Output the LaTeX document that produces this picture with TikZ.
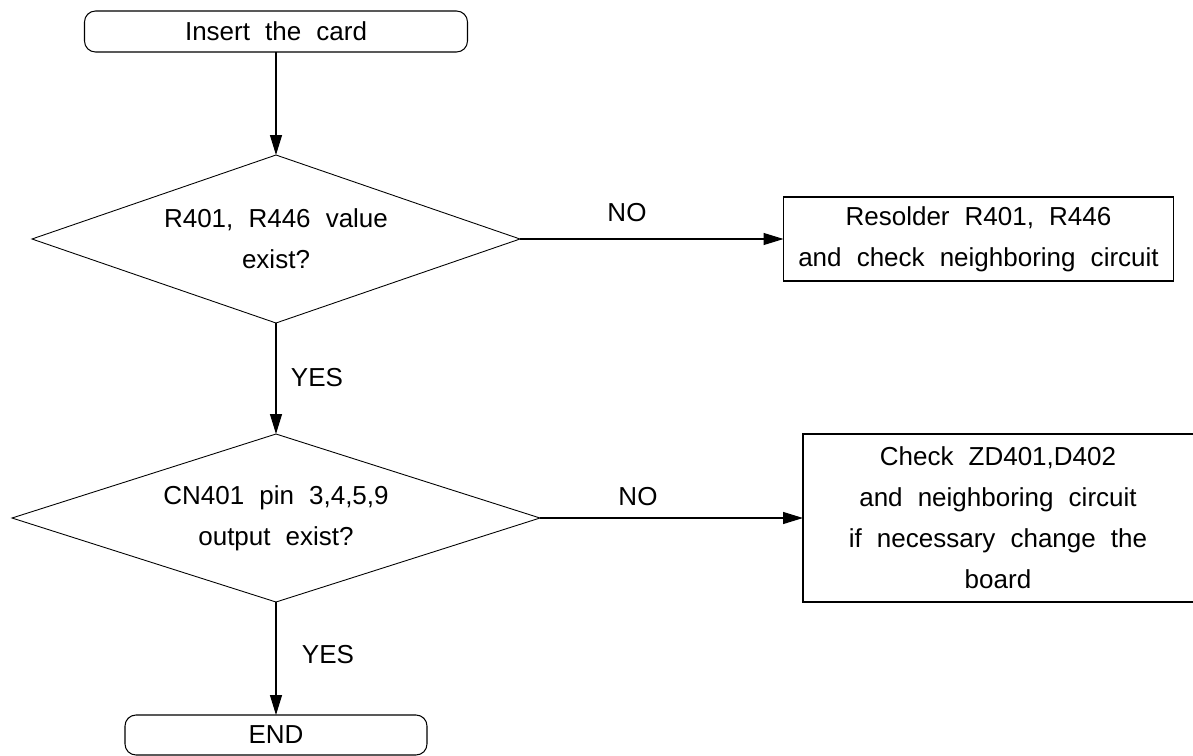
\documentclass[tikz,border=0pt]{standalone}
\usepackage{fontspec}
\setmainfont{Liberation Sans}
\usetikzlibrary{shapes.geometric,arrows.meta}
\newcommand{\chartfont}{\fontsize{14.8}{23.3}\selectfont\spaceskip=0.58em\relax}
\begin{document}
\begin{tikzpicture}[
  font=\chartfont,
  term/.style={draw,line width=.6pt,rounded corners=.22cm,minimum height=.82cm,inner sep=0,outer sep=0},
  decide/.style={draw,diamond,aspect=2.9,line width=.5pt,minimum height=3.36cm,inner sep=0,outer sep=0,align=center},
  act/.style={draw,line width=.7pt,inner sep=0,outer sep=0,align=center},
  flow/.style={line width=.7pt,-{Triangle[length=.4cm,width=.24cm]}}]
\useasboundingbox (0,0) rectangle (23.86,-15.12);

\node [term,minimum width=7.66cm] (insert) at (5.52,-.63) {Insert the card};

\node [decide,minimum width=9.76cm] (val) at (5.52,-4.78) {R401, R446 value\\exist?};
\node [act,minimum width=7.8cm,minimum height=1.68cm] (resolder) at (19.57,-4.78) {Resolder R401, R446\\and check neighboring circuit};

\node [decide,minimum width=10.56cm] (pins) at (5.52,-10.36) {CN401 pin 3,4,5,9\\output exist?};
% right edge of this box falls just past the page
\node [act,minimum width=7.9cm,minimum height=3.36cm] (board) at (20.01,-10.36) {\hspace*{-.1cm}Check ZD401,D402\\\hspace*{-.1cm}and neighboring circuit\\\hspace*{-.1cm}if necessary change the\\\hspace*{-.1cm}board};

\node [term,minimum width=6.04cm,minimum height=.8cm] (finish) at (5.52,-14.7) {END};

\draw [flow] (insert) -- (val);
\draw [flow] (val) -- (resolder);
\node (no1) at (12.54,-4.26) {NO};
\draw [flow] (val) -- (pins);
\node (yes1) at (6.34,-7.56) {YES};
\draw [flow] (pins) -- (board);
\node (no2) at (12.76,-9.94) {NO};
\draw [flow] (pins) -- (finish);
\node (yes2) at (6.56,-13.1) {YES};
\end{tikzpicture}
\end{document}
